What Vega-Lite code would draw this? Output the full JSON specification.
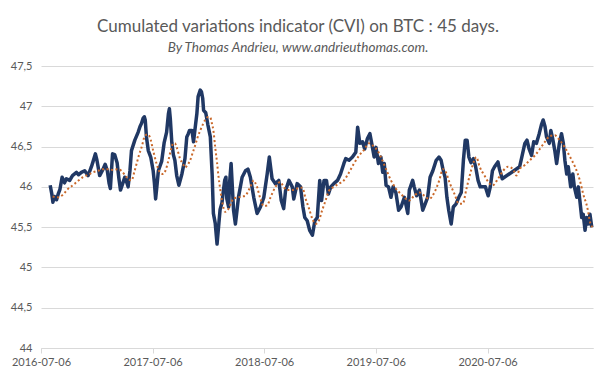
{
  "$schema": "https://vega.github.io/schema/vega-lite/v6.json",
  "autosize": "none",
  "width": 552,
  "height": 282,
  "padding": {"left": 41, "top": 66, "right": 12, "bottom": 32},
  "background": "white",
  "title": {
    "text": "Cumulated variations indicator (CVI) on BTC : 45 days.",
    "subtitle": "By Thomas Andrieu, www.andrieuthomas.com.",
    "font": "Lato",
    "fontSize": 17,
    "fontWeight": "normal",
    "color": "#595959",
    "subtitleFont": "Lato",
    "subtitleFontSize": 13.5,
    "subtitleFontStyle": "italic",
    "subtitleColor": "#595959",
    "subtitlePadding": 5,
    "anchor": "middle",
    "dx": -19,
    "offset": 5
  },
  "config": {
    "view": {"stroke": null},
    "axis": {"labelFont": "Lato", "labelFontSize": 11, "labelColor": "#595959"}
  },
  "datasets": {
    "cvi": [
      {"date": "2016-08-05", "v": 46.02}, {"date": "2016-08-10", "v": 45.92}, {"date": "2016-08-14", "v": 45.81},
      {"date": "2016-08-19", "v": 45.88}, {"date": "2016-08-26", "v": 45.84}, {"date": "2016-09-01", "v": 45.92},
      {"date": "2016-09-06", "v": 45.97}, {"date": "2016-09-13", "v": 46.12}, {"date": "2016-09-21", "v": 46.05},
      {"date": "2016-09-27", "v": 46.10}, {"date": "2016-10-08", "v": 46.08}, {"date": "2016-10-17", "v": 46.14},
      {"date": "2016-10-30", "v": 46.18}, {"date": "2016-11-06", "v": 46.15}, {"date": "2016-11-15", "v": 46.18},
      {"date": "2016-11-26", "v": 46.20}, {"date": "2016-12-07", "v": 46.14}, {"date": "2016-12-18", "v": 46.25},
      {"date": "2016-12-23", "v": 46.31}, {"date": "2016-12-31", "v": 46.41}, {"date": "2017-01-05", "v": 46.33},
      {"date": "2017-01-14", "v": 46.14}, {"date": "2017-01-25", "v": 46.22}, {"date": "2017-02-01", "v": 46.28},
      {"date": "2017-02-08", "v": 46.20}, {"date": "2017-02-14", "v": 46.04}, {"date": "2017-02-18", "v": 45.98},
      {"date": "2017-02-25", "v": 46.41}, {"date": "2017-03-04", "v": 46.40}, {"date": "2017-03-12", "v": 46.30},
      {"date": "2017-03-18", "v": 46.10}, {"date": "2017-03-23", "v": 45.96}, {"date": "2017-03-31", "v": 46.05},
      {"date": "2017-04-06", "v": 46.12}, {"date": "2017-04-13", "v": 46.05}, {"date": "2017-04-17", "v": 46.00},
      {"date": "2017-04-23", "v": 46.20}, {"date": "2017-04-28", "v": 46.45}, {"date": "2017-05-09", "v": 46.58},
      {"date": "2017-05-20", "v": 46.68}, {"date": "2017-05-26", "v": 46.75}, {"date": "2017-05-31", "v": 46.79},
      {"date": "2017-06-05", "v": 46.85}, {"date": "2017-06-09", "v": 46.87}, {"date": "2017-06-12", "v": 46.83},
      {"date": "2017-06-16", "v": 46.62}, {"date": "2017-06-22", "v": 46.45}, {"date": "2017-06-30", "v": 46.37},
      {"date": "2017-07-08", "v": 46.20}, {"date": "2017-07-12", "v": 46.05}, {"date": "2017-07-16", "v": 45.85},
      {"date": "2017-07-20", "v": 46.00}, {"date": "2017-07-25", "v": 46.20}, {"date": "2017-08-05", "v": 46.32},
      {"date": "2017-08-13", "v": 46.55}, {"date": "2017-08-21", "v": 46.68}, {"date": "2017-08-27", "v": 46.91},
      {"date": "2017-08-30", "v": 46.97}, {"date": "2017-09-02", "v": 46.85}, {"date": "2017-09-07", "v": 46.55},
      {"date": "2017-09-12", "v": 46.40}, {"date": "2017-09-17", "v": 46.33}, {"date": "2017-09-23", "v": 46.14},
      {"date": "2017-09-30", "v": 46.02}, {"date": "2017-10-10", "v": 46.16}, {"date": "2017-10-20", "v": 46.35},
      {"date": "2017-10-26", "v": 46.62}, {"date": "2017-10-31", "v": 46.66}, {"date": "2017-11-04", "v": 46.70},
      {"date": "2017-11-12", "v": 46.70}, {"date": "2017-11-17", "v": 46.56}, {"date": "2017-11-22", "v": 46.72},
      {"date": "2017-11-28", "v": 46.91}, {"date": "2017-12-02", "v": 47.12}, {"date": "2017-12-09", "v": 47.20},
      {"date": "2017-12-13", "v": 47.18}, {"date": "2017-12-17", "v": 47.10}, {"date": "2017-12-20", "v": 46.95},
      {"date": "2017-12-27", "v": 46.92}, {"date": "2018-01-03", "v": 46.77}, {"date": "2018-01-11", "v": 46.62},
      {"date": "2018-01-17", "v": 46.15}, {"date": "2018-01-21", "v": 45.67}, {"date": "2018-01-27", "v": 45.55},
      {"date": "2018-02-02", "v": 45.29}, {"date": "2018-02-08", "v": 45.55}, {"date": "2018-02-12", "v": 45.72},
      {"date": "2018-02-18", "v": 45.80}, {"date": "2018-02-23", "v": 45.96}, {"date": "2018-02-27", "v": 46.08},
      {"date": "2018-03-03", "v": 46.12}, {"date": "2018-03-06", "v": 45.85}, {"date": "2018-03-12", "v": 45.75},
      {"date": "2018-03-15", "v": 46.05}, {"date": "2018-03-20", "v": 46.29}, {"date": "2018-03-28", "v": 45.71},
      {"date": "2018-04-03", "v": 45.54}, {"date": "2018-04-08", "v": 45.70}, {"date": "2018-04-13", "v": 45.87},
      {"date": "2018-04-25", "v": 46.12}, {"date": "2018-05-06", "v": 46.20}, {"date": "2018-05-14", "v": 46.22},
      {"date": "2018-05-22", "v": 46.12}, {"date": "2018-06-02", "v": 45.87}, {"date": "2018-06-13", "v": 45.67},
      {"date": "2018-06-24", "v": 45.75}, {"date": "2018-07-05", "v": 45.87}, {"date": "2018-07-16", "v": 46.16},
      {"date": "2018-07-23", "v": 46.37}, {"date": "2018-08-01", "v": 46.10}, {"date": "2018-08-12", "v": 46.04},
      {"date": "2018-08-23", "v": 46.08}, {"date": "2018-08-31", "v": 45.83}, {"date": "2018-09-08", "v": 45.73},
      {"date": "2018-09-14", "v": 45.95}, {"date": "2018-09-25", "v": 46.08}, {"date": "2018-10-06", "v": 46.00},
      {"date": "2018-10-11", "v": 45.85}, {"date": "2018-10-22", "v": 46.04}, {"date": "2018-11-02", "v": 46.00},
      {"date": "2018-11-10", "v": 45.75}, {"date": "2018-11-16", "v": 45.62}, {"date": "2018-11-24", "v": 45.58},
      {"date": "2018-12-02", "v": 45.46}, {"date": "2018-12-11", "v": 45.40}, {"date": "2018-12-19", "v": 45.58},
      {"date": "2018-12-27", "v": 45.62}, {"date": "2019-01-04", "v": 46.08}, {"date": "2019-01-10", "v": 45.83},
      {"date": "2019-01-18", "v": 46.08}, {"date": "2019-01-26", "v": 46.08}, {"date": "2019-02-01", "v": 45.91},
      {"date": "2019-02-09", "v": 46.00}, {"date": "2019-02-19", "v": 46.04}, {"date": "2019-03-03", "v": 46.08},
      {"date": "2019-03-13", "v": 46.16}, {"date": "2019-03-24", "v": 46.29}, {"date": "2019-03-30", "v": 46.35},
      {"date": "2019-04-10", "v": 46.33}, {"date": "2019-04-21", "v": 46.37}, {"date": "2019-05-02", "v": 46.43},
      {"date": "2019-05-08", "v": 46.74}, {"date": "2019-05-15", "v": 46.54}, {"date": "2019-05-24", "v": 46.56},
      {"date": "2019-05-31", "v": 46.47}, {"date": "2019-06-09", "v": 46.60}, {"date": "2019-06-17", "v": 46.66},
      {"date": "2019-06-23", "v": 46.54}, {"date": "2019-07-01", "v": 46.37}, {"date": "2019-07-07", "v": 46.49},
      {"date": "2019-07-15", "v": 46.29}, {"date": "2019-07-23", "v": 46.37}, {"date": "2019-07-29", "v": 46.18},
      {"date": "2019-08-03", "v": 46.29}, {"date": "2019-08-09", "v": 46.02}, {"date": "2019-08-17", "v": 46.00},
      {"date": "2019-08-25", "v": 45.87}, {"date": "2019-09-01", "v": 46.00}, {"date": "2019-09-10", "v": 45.93},
      {"date": "2019-09-19", "v": 45.71}, {"date": "2019-09-27", "v": 45.75}, {"date": "2019-10-08", "v": 45.87},
      {"date": "2019-10-19", "v": 45.67}, {"date": "2019-10-24", "v": 45.96}, {"date": "2019-11-04", "v": 46.08},
      {"date": "2019-11-09", "v": 46.00}, {"date": "2019-11-17", "v": 45.89}, {"date": "2019-11-26", "v": 45.96},
      {"date": "2019-12-07", "v": 45.71}, {"date": "2019-12-15", "v": 45.79}, {"date": "2019-12-23", "v": 45.87},
      {"date": "2019-12-31", "v": 46.12}, {"date": "2020-01-09", "v": 46.20}, {"date": "2020-01-20", "v": 46.33},
      {"date": "2020-01-29", "v": 46.37}, {"date": "2020-02-05", "v": 46.33}, {"date": "2020-02-11", "v": 46.22},
      {"date": "2020-02-18", "v": 46.12}, {"date": "2020-02-24", "v": 45.87}, {"date": "2020-03-01", "v": 45.71},
      {"date": "2020-03-09", "v": 45.54}, {"date": "2020-03-16", "v": 45.75}, {"date": "2020-03-25", "v": 45.79},
      {"date": "2020-04-03", "v": 45.87}, {"date": "2020-04-11", "v": 45.93}, {"date": "2020-04-18", "v": 46.33},
      {"date": "2020-04-24", "v": 46.58}, {"date": "2020-04-30", "v": 46.58}, {"date": "2020-05-06", "v": 46.37},
      {"date": "2020-05-13", "v": 46.30}, {"date": "2020-05-21", "v": 46.35}, {"date": "2020-05-28", "v": 46.25},
      {"date": "2020-06-05", "v": 46.08}, {"date": "2020-06-12", "v": 46.00}, {"date": "2020-06-21", "v": 46.00},
      {"date": "2020-06-29", "v": 46.00}, {"date": "2020-07-08", "v": 45.89}, {"date": "2020-07-15", "v": 46.00},
      {"date": "2020-07-22", "v": 46.20}, {"date": "2020-07-29", "v": 46.25}, {"date": "2020-08-09", "v": 46.31},
      {"date": "2020-08-14", "v": 46.22}, {"date": "2020-08-23", "v": 46.10}, {"date": "2020-10-19", "v": 46.25},
      {"date": "2020-10-25", "v": 46.35}, {"date": "2020-11-05", "v": 46.54}, {"date": "2020-11-12", "v": 46.58},
      {"date": "2020-11-19", "v": 46.47}, {"date": "2020-11-27", "v": 46.39}, {"date": "2020-12-04", "v": 46.56},
      {"date": "2020-12-13", "v": 46.54}, {"date": "2020-12-22", "v": 46.66}, {"date": "2020-12-30", "v": 46.78},
      {"date": "2021-01-04", "v": 46.83}, {"date": "2021-01-10", "v": 46.75}, {"date": "2021-01-15", "v": 46.62},
      {"date": "2021-01-24", "v": 46.54}, {"date": "2021-01-29", "v": 46.70}, {"date": "2021-02-04", "v": 46.60},
      {"date": "2021-02-11", "v": 46.45}, {"date": "2021-02-17", "v": 46.29}, {"date": "2021-02-26", "v": 46.54},
      {"date": "2021-03-05", "v": 46.66}, {"date": "2021-03-11", "v": 46.54}, {"date": "2021-03-16", "v": 46.33},
      {"date": "2021-03-22", "v": 46.16}, {"date": "2021-03-27", "v": 46.25}, {"date": "2021-04-04", "v": 46.00},
      {"date": "2021-04-11", "v": 46.16}, {"date": "2021-04-16", "v": 46.00}, {"date": "2021-04-24", "v": 45.87},
      {"date": "2021-04-29", "v": 46.00}, {"date": "2021-05-04", "v": 45.83}, {"date": "2021-05-10", "v": 45.62},
      {"date": "2021-05-15", "v": 45.66}, {"date": "2021-05-21", "v": 45.46}, {"date": "2021-05-26", "v": 45.62},
      {"date": "2021-06-01", "v": 45.54}, {"date": "2021-06-06", "v": 45.66}, {"date": "2021-06-12", "v": 45.50}
    ],
    "ma": [
      {"date": "2016-08-13", "v": 45.88}, {"date": "2016-08-29", "v": 45.87}, {"date": "2016-09-15", "v": 45.90},
      {"date": "2016-10-01", "v": 45.97}, {"date": "2016-10-18", "v": 46.02}, {"date": "2016-11-03", "v": 46.07},
      {"date": "2016-11-20", "v": 46.12}, {"date": "2016-12-07", "v": 46.15}, {"date": "2016-12-23", "v": 46.18},
      {"date": "2017-01-09", "v": 46.20}, {"date": "2017-01-25", "v": 46.22}, {"date": "2017-02-11", "v": 46.22},
      {"date": "2017-02-27", "v": 46.21}, {"date": "2017-03-13", "v": 46.22}, {"date": "2017-03-26", "v": 46.20},
      {"date": "2017-04-12", "v": 46.12}, {"date": "2017-04-28", "v": 46.08}, {"date": "2017-05-07", "v": 46.18},
      {"date": "2017-05-15", "v": 46.29}, {"date": "2017-05-23", "v": 46.40}, {"date": "2017-05-31", "v": 46.49},
      {"date": "2017-06-11", "v": 46.63}, {"date": "2017-06-19", "v": 46.65}, {"date": "2017-06-27", "v": 46.62},
      {"date": "2017-07-08", "v": 46.45}, {"date": "2017-07-19", "v": 46.29}, {"date": "2017-07-30", "v": 46.18},
      {"date": "2017-08-10", "v": 46.16}, {"date": "2017-08-19", "v": 46.22}, {"date": "2017-08-27", "v": 46.33},
      {"date": "2017-09-04", "v": 46.46}, {"date": "2017-09-12", "v": 46.54}, {"date": "2017-09-17", "v": 46.54},
      {"date": "2017-09-23", "v": 46.49}, {"date": "2017-10-04", "v": 46.35}, {"date": "2017-10-14", "v": 46.28},
      {"date": "2017-10-20", "v": 46.24}, {"date": "2017-10-28", "v": 46.27}, {"date": "2017-11-06", "v": 46.33},
      {"date": "2017-11-14", "v": 46.42}, {"date": "2017-11-22", "v": 46.51}, {"date": "2017-11-30", "v": 46.61},
      {"date": "2017-12-09", "v": 46.70}, {"date": "2017-12-17", "v": 46.77}, {"date": "2017-12-25", "v": 46.83},
      {"date": "2018-01-05", "v": 46.87}, {"date": "2018-01-11", "v": 46.86}, {"date": "2018-01-16", "v": 46.79},
      {"date": "2018-01-21", "v": 46.70}, {"date": "2018-01-27", "v": 46.49}, {"date": "2018-02-02", "v": 46.30},
      {"date": "2018-02-07", "v": 46.12}, {"date": "2018-02-12", "v": 45.98}, {"date": "2018-02-18", "v": 45.83},
      {"date": "2018-02-23", "v": 45.74}, {"date": "2018-02-28", "v": 45.69}, {"date": "2018-03-12", "v": 45.73},
      {"date": "2018-03-20", "v": 45.80}, {"date": "2018-03-28", "v": 45.86}, {"date": "2018-04-13", "v": 45.87},
      {"date": "2018-04-25", "v": 45.88}, {"date": "2018-05-06", "v": 45.89}, {"date": "2018-05-14", "v": 45.94},
      {"date": "2018-05-22", "v": 46.00}, {"date": "2018-06-02", "v": 46.08}, {"date": "2018-06-07", "v": 46.05},
      {"date": "2018-06-13", "v": 46.00}, {"date": "2018-06-18", "v": 45.93}, {"date": "2018-06-24", "v": 45.85},
      {"date": "2018-07-05", "v": 45.76}, {"date": "2018-07-16", "v": 45.77}, {"date": "2018-07-27", "v": 45.87},
      {"date": "2018-08-12", "v": 46.00}, {"date": "2018-08-28", "v": 46.06}, {"date": "2018-09-08", "v": 46.00},
      {"date": "2018-09-19", "v": 45.96}, {"date": "2018-10-06", "v": 45.96}, {"date": "2018-10-22", "v": 45.98},
      {"date": "2018-11-08", "v": 45.99}, {"date": "2018-11-19", "v": 45.85}, {"date": "2018-11-30", "v": 45.73},
      {"date": "2018-12-11", "v": 45.60}, {"date": "2018-12-21", "v": 45.54}, {"date": "2019-01-01", "v": 45.58},
      {"date": "2019-01-12", "v": 45.71}, {"date": "2019-01-23", "v": 45.83}, {"date": "2019-02-03", "v": 45.95},
      {"date": "2019-02-19", "v": 46.00}, {"date": "2019-03-08", "v": 46.04}, {"date": "2019-03-24", "v": 46.08},
      {"date": "2019-04-10", "v": 46.18}, {"date": "2019-04-26", "v": 46.29}, {"date": "2019-05-13", "v": 46.39},
      {"date": "2019-05-29", "v": 46.46}, {"date": "2019-06-14", "v": 46.54}, {"date": "2019-06-27", "v": 46.51},
      {"date": "2019-07-12", "v": 46.45}, {"date": "2019-07-23", "v": 46.37}, {"date": "2019-08-09", "v": 46.22},
      {"date": "2019-08-25", "v": 46.08}, {"date": "2019-09-10", "v": 45.98}, {"date": "2019-09-27", "v": 45.91},
      {"date": "2019-10-13", "v": 45.85}, {"date": "2019-10-24", "v": 45.83}, {"date": "2019-11-09", "v": 45.89},
      {"date": "2019-11-26", "v": 45.93}, {"date": "2019-12-12", "v": 45.89}, {"date": "2019-12-28", "v": 45.85},
      {"date": "2020-01-14", "v": 45.93}, {"date": "2020-01-30", "v": 46.08}, {"date": "2020-02-11", "v": 46.22},
      {"date": "2020-02-21", "v": 46.18}, {"date": "2020-03-03", "v": 46.06}, {"date": "2020-03-20", "v": 45.91},
      {"date": "2020-04-03", "v": 45.79}, {"date": "2020-04-16", "v": 45.79}, {"date": "2020-04-27", "v": 45.96},
      {"date": "2020-05-10", "v": 46.16}, {"date": "2020-05-24", "v": 46.33}, {"date": "2020-05-30", "v": 46.37},
      {"date": "2020-06-10", "v": 46.25}, {"date": "2020-06-26", "v": 46.14}, {"date": "2020-07-13", "v": 46.04},
      {"date": "2020-07-23", "v": 46.02}, {"date": "2020-08-09", "v": 46.10}, {"date": "2020-08-26", "v": 46.20},
      {"date": "2020-09-11", "v": 46.25}, {"date": "2020-09-27", "v": 46.22}, {"date": "2020-10-09", "v": 46.14},
      {"date": "2020-10-19", "v": 46.22}, {"date": "2020-11-05", "v": 46.27}, {"date": "2020-11-21", "v": 46.33},
      {"date": "2020-12-08", "v": 46.39}, {"date": "2020-12-24", "v": 46.47}, {"date": "2021-01-10", "v": 46.56},
      {"date": "2021-01-26", "v": 46.63}, {"date": "2021-02-11", "v": 46.64}, {"date": "2021-02-27", "v": 46.58},
      {"date": "2021-03-16", "v": 46.49}, {"date": "2021-04-02", "v": 46.37}, {"date": "2021-04-18", "v": 46.25},
      {"date": "2021-05-04", "v": 46.08}, {"date": "2021-05-15", "v": 45.91}, {"date": "2021-05-28", "v": 45.75},
      {"date": "2021-06-08", "v": 45.54}, {"date": "2021-06-15", "v": 45.50}
    ]
  },
  "encoding": {
    "x": {
      "field": "date",
      "type": "temporal",
      "scale": {"domain": [{"year": 2016, "month": 7, "date": 6}, {"year": 2021, "month": 6, "date": 16}]},
      "axis": {
        "title": null,
        "values": [
          {"year": 2016, "month": 7, "date": 6},
          {"year": 2017, "month": 7, "date": 6},
          {"year": 2018, "month": 7, "date": 6},
          {"year": 2019, "month": 7, "date": 6},
          {"year": 2020, "month": 7, "date": 6}
        ],
        "format": "%Y-%m-%d",
        "grid": false,
        "domainColor": "#D9D9D9",
        "tickColor": "#D9D9D9",
        "tickSize": 5,
        "labelPadding": 3,
        "labelFlush": false
      }
    },
    "y": {
      "field": "v",
      "type": "quantitative",
      "scale": {"domain": [44, 47.5], "nice": false, "zero": false},
      "axis": {
        "title": null,
        "values": [44, 44.5, 45, 45.5, 46, 46.5, 47, 47.5],
        "labelExpr": "replace(format(datum.value, '~g'), '.', ',')",
        "domain": false,
        "ticks": false,
        "grid": true,
        "gridColor": "#D9D9D9",
        "labelPadding": 9
      }
    }
  },
  "layer": [
    {
      "data": {"name": "cvi"},
      "mark": {"type": "line", "color": "#203864", "strokeWidth": 3.5, "strokeJoin": "round"}
    },
    {
      "data": {"name": "ma"},
      "mark": {"type": "line", "color": "#C9682A", "strokeWidth": 2, "strokeDash": [2, 2.5], "interpolate": "monotone"}
    }
  ]
}
